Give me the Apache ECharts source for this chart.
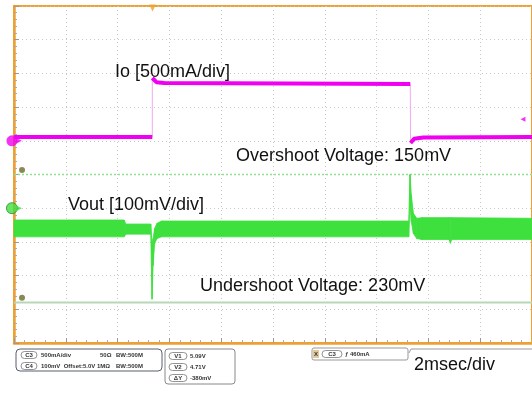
<!DOCTYPE html>
<html><head><meta charset="utf-8">
<script src="https://cdn.jsdelivr.net/npm/echarts@6/dist/echarts.min.js"></script>
<style>html,body{margin:0;padding:0;background:#fff}#c{width:532px;height:394px}</style>
</head><body><div id="c"></div>
<script>
// ---- data (time in ms, 2 ms/div) ----
const timeMin = 0, timeMax = 20, timeDiv = 2;
// Io trace (A), 500 mA/div
const ioTime  = [0, 5.34, 5.34, 5.5, 5.8, 15.30, 15.31, 15.45, 15.8, 20];
const ioValue = [0.056, 0.056, 0.932, 0.87, 0.858, 0.843, -0.033, 0.03, 0.05, 0.056];
// Vout trace envelope (V), 100 mV/div
const vTime = [0, 4.25, 4.32, 5.28, 5.33, 5.37, 5.43, 5.52, 5.7, 15.24, 15.29, 15.34, 15.42, 15.55, 15.75, 16.8, 16.85, 16.9, 20];
const vHigh = [4.955, 4.955, 4.943, 4.943, 4.88, 4.90, 4.93, 4.945, 4.952, 4.952, 5.09, 5.03, 4.975, 4.96, 4.962, 4.962, 4.962, 4.962, 4.96];
const vLow  = [4.905, 4.905, 4.913, 4.913, 4.72, 4.82, 4.885, 4.90, 4.905, 4.905, 5.00, 4.95, 4.915, 4.90, 4.897, 4.897, 4.886, 4.897, 4.897];
// cursors
const cursorV1 = 5.09, cursorV2 = 4.71;
const triggerTime = 5.35, triggerLevel = 0.32;
// axis ranges
const ioMin = -3, ioMax = 2, ioStep = 0.5;
const vMin = 4.59, vMax = 5.59;
// labels
const annotations = ["Io [500mA/div]", "Overshoot Voltage: 150mV", "Vout [100mV/div]", "Undershoot Voltage: 230mV", "2msec/div"];

const ioFull = ioTime.map((t,i)=>[t, ioValue[i]]);
const ioThick = [];
ioTime.forEach((t,i)=>{ if(i>0 && t-ioTime[i-1] < 0.02) ioThick.push([t,null]); ioThick.push([t, ioValue[i]]); });
const vSegments = [];
for (let i=0;i<vTime.length-1;i++) vSegments.push([vTime[i], vLow[i], vHigh[i], vTime[i+1], vLow[i+1], vHigh[i+1]]);

const chart = echarts.init(document.getElementById('c'), null, {renderer:'canvas'});
const font = '"Liberation Sans", Arial, sans-serif';
const small = 'bold 6px "Liberation Sans", Arial, sans-serif';
function txt(x,y,t,f,c,align){return {type:'text',x:x,y:y,style:{text:t,font:f,fill:c||'#111',align:align||'left',verticalAlign:'middle'},z:100};}
function pill(x,y,w,label){return [
  {type:'rect',shape:{x:x,y:y-3.5,width:w,height:7,r:3.5},style:{fill:'#fff',stroke:'#777',lineWidth:0.8},z:100},
  txt(x+w/2,y,label,small,'#333','center')];}

const graphics = [
  txt(115,72,annotations[0],'18px '+font,'#111'),
  txt(236,156,annotations[1],'18px '+font,'#111'),
  txt(68,205,annotations[2],'18px '+font,'#111'),
  txt(200,286,annotations[3],'18px '+font,'#111'),
  txt(414,365,annotations[4],'18px '+font,'#111'),
  // panel 1
  {type:'rect',shape:{x:16,y:349,width:146,height:22,r:4},style:{fill:'none',stroke:'#5a5e70',lineWidth:1},z:100},
  ...pill(21,355,16,'C3'), txt(41,355,'500mA/div',small,'#333'), txt(100,355,'50Ω',small,'#333'), txt(116,355,'BW:500M',small,'#333'),
  ...pill(21,366,16,'C4'), txt(41,366,'100mV  Offset:5.0V',small,'#333'), txt(97,366,'1MΩ',small,'#333'), txt(116,366,'BW:500M',small,'#333'),
  // panel 2
  {type:'rect',shape:{x:165,y:349,width:70,height:35,r:3},style:{fill:'none',stroke:'#888',lineWidth:1},z:100},
  ...pill(169,356,18,'V1'), txt(190,356,'5.09V',small,'#333'),
  ...pill(169,367,18,'V2'), txt(190,367,'4.71V',small,'#333'),
  ...pill(169,378,18,'ΔY'), txt(190,378,'-380mV',small,'#333'),
  // panel 3
  {type:'rect',shape:{x:312,y:348,width:96,height:12,r:2},style:{fill:'none',stroke:'#999',lineWidth:1},z:100},
  {type:'rect',shape:{x:313,y:350,width:6,height:8},style:{fill:'#e3c99a'},z:100},
  txt(316,354,'X',small,'#333','center'),
  ...pill(322,354,20,'C3'), txt(345,354,'ƒ 460mA',small,'#333'),
  {type:'polyline',shape:{points:[[409,353],[411,349],[532,349]]},style:{stroke:'#999',lineWidth:1,fill:'none'},z:100}
];

const dotted = {type:[1,3], color:'#c8c8c8', width:1};
chart.setOption({
  animation:false,
  backgroundColor:'#fff',
  grid:{left:14, top:6, width:520, height:337, show:true, borderColor:'#f0a030', borderWidth:2, backgroundColor:'#fff'},
  xAxis:{type:'value', min:timeMin, max:timeMax, interval:timeDiv,
    axisLine:{show:true, onZero:false, lineStyle:{color:'#f0a030', width:2.5}},
    axisTick:{show:true, inside:true, length:5, lineStyle:{color:'#999'}},
    minorTick:{show:true, splitNumber:5, length:3, lineStyle:{color:'#aaa'}},
    axisLabel:{show:false}, splitLine:{show:true, lineStyle:dotted}},
  yAxis:[
    {type:'value', min:ioMin, max:ioMax, interval:ioStep,
      axisLine:{show:true, onZero:false, lineStyle:{color:'#f0a030', width:2.5}},
      axisTick:{show:true, inside:true, length:5, lineStyle:{color:'#999'}},
      minorTick:{show:true, splitNumber:5, length:3, lineStyle:{color:'#aaa'}},
      axisLabel:{show:false}, splitLine:{show:true, lineStyle:dotted}},
    {type:'value', min:vMin, max:vMax, show:false, splitLine:{show:false}}
  ],
  graphic:graphics,
  series:[
    {type:'line', yAxisIndex:1, data:[[timeMin,cursorV1],[timeMax,cursorV1]], symbol:'none', z:3,
      lineStyle:{color:'#8fe08f', width:1.5, type:[2,2]}},
    {type:'line', yAxisIndex:1, data:[[timeMin,cursorV2],[timeMax,cursorV2]], symbol:'none', z:3,
      lineStyle:{color:'#b8d6b8', width:2}},
    {type:'custom', yAxisIndex:1, data:vSegments, z:4, encode:{x:[0,3], y:[1,2,4,5]},
      renderItem:function(params, api){
        const a = api.coord([api.value(0), api.value(2)]);
        const b = api.coord([api.value(3), api.value(5)]);
        const c = api.coord([api.value(3), api.value(4)]);
        const d = api.coord([api.value(0), api.value(1)]);
        return {type:'polygon', shape:{points:[a,b,c,d]}, style:{fill:'#3ee03e', stroke:'#3ee03e', lineWidth:0.8}};
      }},
    {type:'line', yAxisIndex:0, data:ioFull, symbol:'none', z:5,
      lineStyle:{width:1, color:'#eeaaee'}},
    {type:'line', yAxisIndex:0, data:ioThick, symbol:'none', connectNulls:false, z:6,
      lineStyle:{width:4, color:'#f000f0'}},
    // markers
    {type:'scatter', yAxisIndex:0, clip:false, z:10, data:[[-0.08,0]], symbol:'circle', symbolSize:11,
      itemStyle:{color:'#f000f0'}},
    {type:'scatter', yAxisIndex:0, clip:false, z:10, data:[[-0.08,0]], symbol:'triangle', symbolSize:6, symbolRotate:-90, symbolOffset:[7,0],
      itemStyle:{color:'#f000f0'}},
    {type:'scatter', yAxisIndex:1, clip:false, z:10, data:[[-0.08,4.99]], symbol:'circle', symbolSize:11,
      itemStyle:{color:'#3ee03e', borderColor:'#2a8a2a', borderWidth:1}},
    {type:'scatter', yAxisIndex:1, clip:false, z:10, data:[[-0.08,4.99]], symbol:'triangle', symbolSize:6, symbolRotate:-90, symbolOffset:[7,0],
      itemStyle:{color:'#3ee03e'}},
    {type:'scatter', yAxisIndex:1, clip:false, z:10, data:[[0.31,5.103],[0.31,4.724]], symbol:'circle', symbolSize:6,
      itemStyle:{color:'#6b6b2a'}},
    {type:'scatter', yAxisIndex:0, clip:false, z:10, data:[[19.65,triggerLevel]], symbol:'triangle', symbolSize:5, symbolRotate:90,
      itemStyle:{color:'#f000f0'}},
    {type:'scatter', yAxisIndex:0, clip:false, z:10, data:[[triggerTime,ioMax]], symbol:'triangle', symbolSize:7, symbolRotate:180, symbolOffset:[0,2],
      itemStyle:{color:'#f0a030'}}
  ]
});
</script></body></html>
